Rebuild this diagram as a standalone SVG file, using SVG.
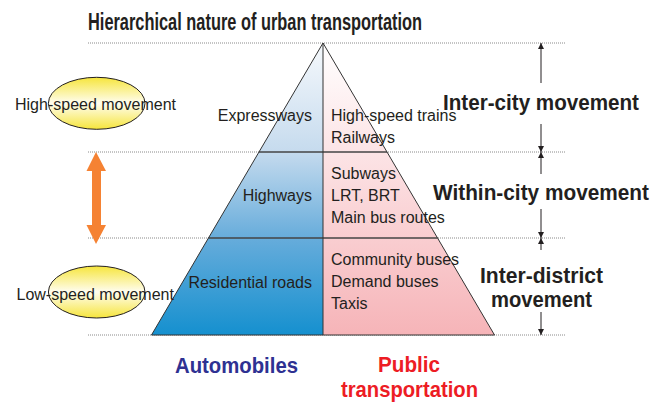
<svg xmlns="http://www.w3.org/2000/svg" width="661" height="403" viewBox="0 0 661 403">
<defs>
<linearGradient id="gBlue" gradientUnits="userSpaceOnUse" x1="0" y1="43" x2="0" y2="335">
<stop offset="0" stop-color="#f6f9fc"/>
<stop offset="0.37" stop-color="#c6dbee"/>
<stop offset="0.67" stop-color="#66acdb"/>
<stop offset="1" stop-color="#1590cf"/>
</linearGradient>
<linearGradient id="gPink" gradientUnits="userSpaceOnUse" x1="0" y1="43" x2="0" y2="335">
<stop offset="0" stop-color="#ffffff"/>
<stop offset="0.37" stop-color="#fce4e6"/>
<stop offset="1" stop-color="#f6b4b8"/>
</linearGradient>
<linearGradient id="gYellow" x1="0" y1="0" x2="0" y2="1">
<stop offset="0" stop-color="#f6e53c"/>
<stop offset="0.5" stop-color="#fffdf0"/>
<stop offset="1" stop-color="#f6e53c"/>
</linearGradient>
<marker id="ah" viewBox="0 0 10 10" refX="10" refY="5" markerWidth="6" markerHeight="7" markerUnits="userSpaceOnUse" orient="auto">
<path d="M0,0 L10,5 L0,10 z" fill="#231f20"/>
</marker>
<style>
.dot{stroke:#8a8a8a;stroke-width:1;stroke-dasharray:1 1;fill:none}
.lbl{font-family:"Liberation Sans",Arial,sans-serif;font-size:16px;fill:#231f20}
.hd{font-family:"Liberation Sans",Arial,sans-serif;font-weight:bold;font-size:22px;fill:#231f20}
.edge{stroke:#333;stroke-width:1;fill:none}
.div{stroke:#444;stroke-width:1.5;fill:none}
.arr{stroke:#231f20;stroke-width:1;fill:none;marker-end:url(#ah)}
.ell{fill:url(#gYellow);stroke:#231f20;stroke-width:1}
</style>
</defs>
<rect width="661" height="403" fill="#ffffff"/>
<g id="title">
<text class="hd" x="88" y="29.5" textLength="334" lengthAdjust="spacingAndGlyphs" style="font-size:23px">Hierarchical nature of urban transportation</text>
</g>
<g id="guides">
<line class="dot" x1="88" y1="43" x2="565" y2="43"/>
<line class="dot" x1="88" y1="152" x2="565" y2="152"/>
<line class="dot" x1="88" y1="238" x2="565" y2="238"/>
<line class="dot" x1="88" y1="335" x2="565" y2="335"/>
</g>
<g id="pyramid">
<polygon points="323,43 323,335 151.5,335" fill="url(#gBlue)"/>
<polygon points="323,43 323,335 494.5,335" fill="url(#gPink)"/>
<line class="div" x1="259" y1="152" x2="387" y2="152"/>
<line class="div" x1="208.5" y1="238" x2="437.5" y2="238"/>
<polygon class="edge" points="323,43 494.5,335 151.5,335"/>
<line class="edge" x1="323" y1="43" x2="323" y2="335"/>
</g>
<g id="auto-labels">
<text class="lbl" x="312" y="121" text-anchor="end">Expressways</text>
<text class="lbl" x="312" y="201" text-anchor="end">Highways</text>
<text class="lbl" x="312" y="288" text-anchor="end">Residential roads</text>
</g>
<g id="public-labels">
<text class="lbl" x="331" y="121">High-speed trains</text>
<text class="lbl" x="331" y="143">Railways</text>
<text class="lbl" x="331" y="179">Subways</text>
<text class="lbl" x="331" y="201">LRT, BRT</text>
<text class="lbl" x="331" y="223">Main bus routes</text>
<text class="lbl" x="331" y="265">Community buses</text>
<text class="lbl" x="331" y="287">Demand buses</text>
<text class="lbl" x="331" y="308.5">Taxis</text>
</g>
<g id="high-speed">
<ellipse class="ell" cx="96.7" cy="103.3" rx="48.3" ry="26"/>
<text class="lbl" x="15" y="110">High-speed movement</text>
</g>
<g id="low-speed">
<ellipse class="ell" cx="96.7" cy="292" rx="48.3" ry="26"/>
<text class="lbl" x="16.5" y="300">Low-speed movement</text>
</g>
<g id="inter-city">
<text class="hd" x="443" y="110" textLength="196" lengthAdjust="spacingAndGlyphs">Inter-city movement</text>
</g>
<g id="within-city">
<text class="hd" x="433" y="200" textLength="216" lengthAdjust="spacingAndGlyphs">Within-city movement</text>
</g>
<g id="inter-district">
<text class="hd" x="480" y="283" textLength="123" lengthAdjust="spacingAndGlyphs">Inter-district</text>
<text class="hd" x="491" y="306.5" textLength="101" lengthAdjust="spacingAndGlyphs">movement</text>
</g>
<g id="automobiles">
<text class="hd" x="175" y="373" textLength="123" lengthAdjust="spacingAndGlyphs" style="fill:#2e3192">Automobiles</text>
</g>
<g id="public-transportation">
<text class="hd" x="378" y="372" textLength="62" lengthAdjust="spacingAndGlyphs" style="fill:#ed1c24">Public</text>
<text class="hd" x="341" y="397" textLength="137" lengthAdjust="spacingAndGlyphs" style="fill:#ed1c24">transportation</text>
</g>
<g id="connectors">
<line class="arr" x1="541" y1="83" x2="541" y2="43"/>
<line class="arr" x1="541" y1="124" x2="541" y2="152"/>
<line class="arr" x1="541" y1="174" x2="541" y2="152"/>
<line class="arr" x1="541" y1="209" x2="541" y2="238"/>
<line class="arr" x1="541" y1="250" x2="541" y2="238"/>
<line class="arr" x1="541" y1="312" x2="541" y2="335"/>
<polygon points="96,152 106,171 101,171 101,225 106,225 96,244 86.5,225 92,225 92,171 86.5,171" fill="#f58233"/>
</g>
</svg>
